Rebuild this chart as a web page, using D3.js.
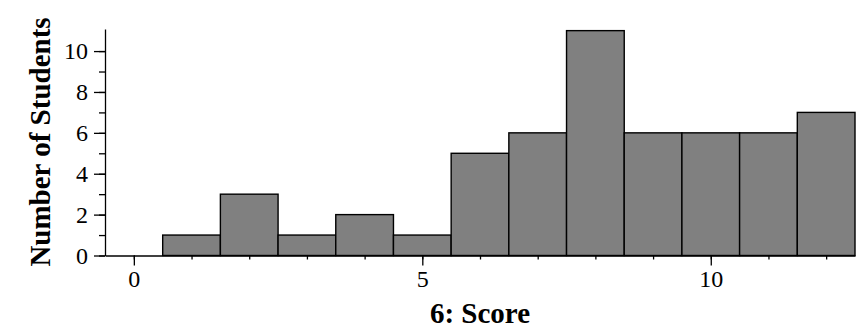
<!DOCTYPE html>
<html>
<head>
<meta charset="utf-8">
<script src="https://cdn.jsdelivr.net/npm/d3@7"></script>
<style>
  body { margin: 0; background: #fff; }
  text { font-family: "Liberation Serif", "Times New Roman", serif; }
</style>
</head>
<body>
<script>
// histogram values
var scores = [1, 2, 3, 4, 5, 6, 7, 8, 9, 10, 11, 12];
var counts = [1, 3, 1, 2, 1, 5, 6, 11, 6, 6, 6, 7];
var xTickLabels = [0, 5, 10];
var yTickLabels = [0, 2, 4, 6, 8, 10];

var data = scores.map(function(s, i) { return {score: s, count: counts[i]}; });

var W = 867, H = 332;
var plot = {left: 105, right: 855, top: 29, bottom: 255.5};

var svg = d3.select("body").append("svg")
    .attr("width", W)
    .attr("height", H);

var x = d3.scaleLinear()
    .domain([-0.5, 12.5])
    .range([plot.left, plot.right]);

var y = d3.scaleLinear()
    .domain([0, 11.08])
    .range([plot.bottom, plot.top]);

// bars
svg.append("g").selectAll("rect")
    .data(data)
  .enter().append("rect")
    .attr("x", function(d) { return x(d.score - 0.5); })
    .attr("y", function(d) { return y(d.count); })
    .attr("width", function(d) { return x(d.score + 0.5) - x(d.score - 0.5); })
    .attr("height", function(d) { return y(0) - y(d.count); })
    .attr("fill", "#808080")
    .attr("stroke", "#000")
    .attr("stroke-width", 1.4);

// minor ticks x
svg.append("g")
    .attr("transform", "translate(0," + plot.bottom + ")")
    .call(d3.axisBottom(x).tickValues(d3.range(0, 13)).tickSize(4).tickFormat(""))
    .call(function(g) { g.select(".domain").remove(); });

// x axis
svg.append("g")
    .attr("transform", "translate(0," + plot.bottom + ")")
    .call(d3.axisBottom(x).tickValues(xTickLabels).tickSize(10).tickSizeOuter(0).tickPadding(4))
    .call(function(g) {
      g.selectAll("text").attr("font-size", 24).attr("fill", "#000");
      g.selectAll("line,path").attr("stroke", "#000").attr("stroke-width", 1.3);
    });

// minor ticks y
svg.append("g")
    .attr("transform", "translate(" + plot.left + ",0)")
    .call(d3.axisLeft(y).tickValues(d3.range(0, 11)).tickSize(6).tickFormat(""))
    .call(function(g) { g.select(".domain").remove(); });

// y axis
svg.append("g")
    .attr("transform", "translate(" + plot.left + ",0)")
    .call(d3.axisLeft(y).tickValues(yTickLabels).tickSize(11).tickSizeOuter(0).tickPadding(6))
    .call(function(g) {
      g.selectAll("text").attr("font-size", 24).attr("fill", "#000");
      g.selectAll("line,path").attr("stroke", "#000").attr("stroke-width", 1.3);
    });

svg.selectAll(".tick line").attr("stroke", "#000").attr("stroke-width", 1.3);

// axis titles
svg.append("text")
    .attr("x", (plot.left + plot.right) / 2)
    .attr("y", 323)
    .attr("text-anchor", "middle")
    .attr("font-size", 29)
    .attr("font-weight", "bold")
    .text("6: Score");

svg.append("text")
    .attr("transform", "translate(50,142) rotate(-90)")
    .attr("text-anchor", "middle")
    .attr("font-size", 29)
    .attr("font-weight", "bold")
    .text("Number of Students");
</script>
</body>
</html>
